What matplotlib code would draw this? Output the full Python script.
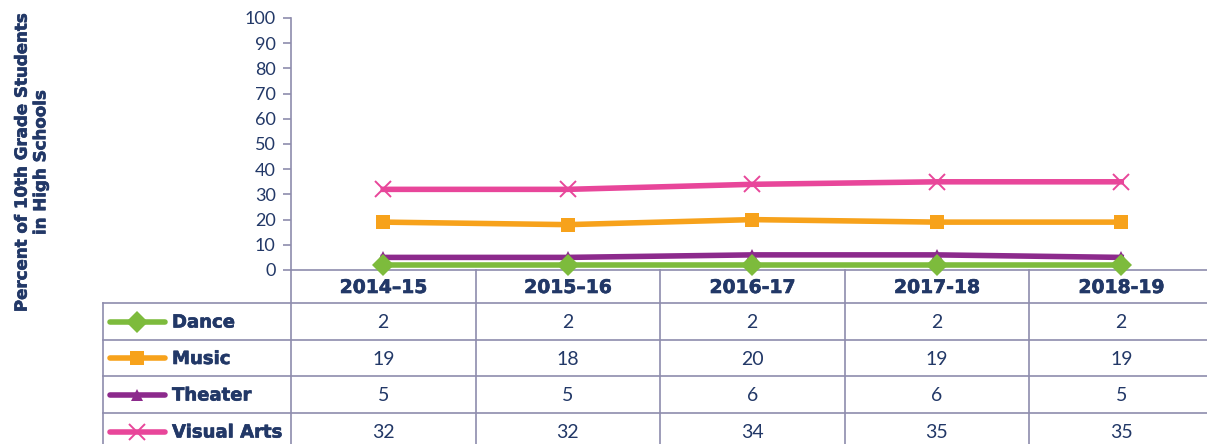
import matplotlib
matplotlib.use("Agg")
import matplotlib.pyplot as plt
import matplotlib.patheffects as pe
from matplotlib.lines import Line2D

plt.rcParams['font.family'] = ['Lato', 'DejaVu Sans']
bold_font = ['DejaVu Sans']

years = ["2014–15", "2015–16", "2016-17", "2017-18", "2018-19"]
series_names = ["Dance", "Music", "Theater", "Visual Arts"]
dance = [2, 2, 2, 2, 2]
music = [19, 18, 20, 19, 19]
theater = [5, 5, 6, 6, 5]
visual_arts = [32, 32, 34, 35, 35]

navy = "#223867"
grid = "#8e8cad"
heavy = [pe.withStroke(linewidth=0.45, foreground=navy)]
styles = {
    "Dance": dict(color="#7dbb3c", marker="D", ms=11, mew=0),
    "Music": dict(color="#f7a21b", marker="s", ms=10, mew=0),
    "Theater": dict(color="#8c2a8c", marker="^", ms=8, mew=0),
    "Visual Arts": dict(color="#e8469a", marker="x", ms=11, mew=1.4),
}
values = {"Dance": dance, "Music": music, "Theater": theater, "Visual Arts": visual_arts}

W, H = 1207, 444
fig = plt.figure(figsize=(W / 100, H / 100), dpi=100)

# pixel layout
x0, colw = 291, 184.5
x_right = x0 + 5 * colw
x_label = 103
y_top, y_zero = 18, 270
row_edges = [270, 303, 340, 376, 413, 450]


def box(left, top, right, bottom):
    return [left / W, 1 - bottom / H, (right - left) / W, (bottom - top) / H]


ax = fig.add_axes(box(x0, y_top, x_right, y_zero))
ax.set_xlim(-0.5, 4.5)
ax.set_ylim(0, 100)
ax.set_yticks(range(0, 101, 10))
ax.set_xticks([])
for s in ["top", "right"]:
    ax.spines[s].set_visible(False)
for s in ["left", "bottom"]:
    ax.spines[s].set_color(grid)
    ax.spines[s].set_linewidth(1.2)
ax.tick_params(axis="y", length=6, width=1.2, color=grid, labelcolor=navy,
               labelsize=13, pad=5)

for name in ["Visual Arts", "Music", "Theater", "Dance"]:
    st = styles[name]
    ax.plot(range(5), values[name], color=st["color"], lw=4, marker=st["marker"],
            ms=st["ms"], mew=st["mew"], mec=st["color"], mfc=st["color"],
            clip_on=False, zorder=3)

fig.text(31 / W, 1 - 163 / H, "Percent of 10th Grade Students\nin High Schools",
         rotation=90, ha="center", va="center", fontsize=12, fontweight="bold",
         family=bold_font, color=navy, linespacing=1.05, path_effects=heavy)

# table below the chart, same x scale as the chart
tx_left = -0.5 - (x0 - x_label) / colw
tab = fig.add_axes(box(x_label, row_edges[0], x_right, row_edges[-1]))
tab.set_xlim(tx_left, 4.5)
tab.set_ylim(row_edges[-1], row_edges[0])
tab.axis("off")

lw_t = 1.2
for i in range(6):
    xv = -0.5 + i
    tab.plot([xv, xv], [row_edges[0], row_edges[-1]], color=grid, lw=lw_t, clip_on=False)
tab.plot([tx_left, tx_left], [row_edges[1], row_edges[-1]], color=grid, lw=lw_t, clip_on=False)
for ye in row_edges[1:]:
    tab.plot([tx_left, 4.5], [ye, ye], color=grid, lw=lw_t, clip_on=False)

for i, yr in enumerate(years):
    tab.text(i, (row_edges[0] + row_edges[1]) / 2 + 1, yr, ha="center", va="center",
             fontsize=13.5, fontweight="bold", family=bold_font, color=navy,
             path_effects=heavy)


def px2x(px):
    return -0.5 + (px - x0) / colw


for r, name in enumerate(series_names):
    yc = (row_edges[r + 1] + row_edges[r + 2]) / 2
    st = styles[name]
    tab.add_line(Line2D([px2x(110), px2x(165)], [yc, yc], color=st["color"], lw=4,
                        solid_capstyle="round"))
    tab.add_line(Line2D([px2x(137)], [yc], color=st["color"], marker=st["marker"],
                        ms=st["ms"], mew=st["mew"], mec=st["color"], mfc=st["color"]))
    tab.text(px2x(172), yc + 1, name, ha="left", va="center", fontsize=13,
             fontweight="bold", family=bold_font, color=navy, path_effects=heavy)
    for i, v in enumerate(values[name]):
        tab.text(i, yc + 1, str(v), ha="center", va="center", fontsize=14, color=navy)

fig.savefig("out.png", dpi=100)
